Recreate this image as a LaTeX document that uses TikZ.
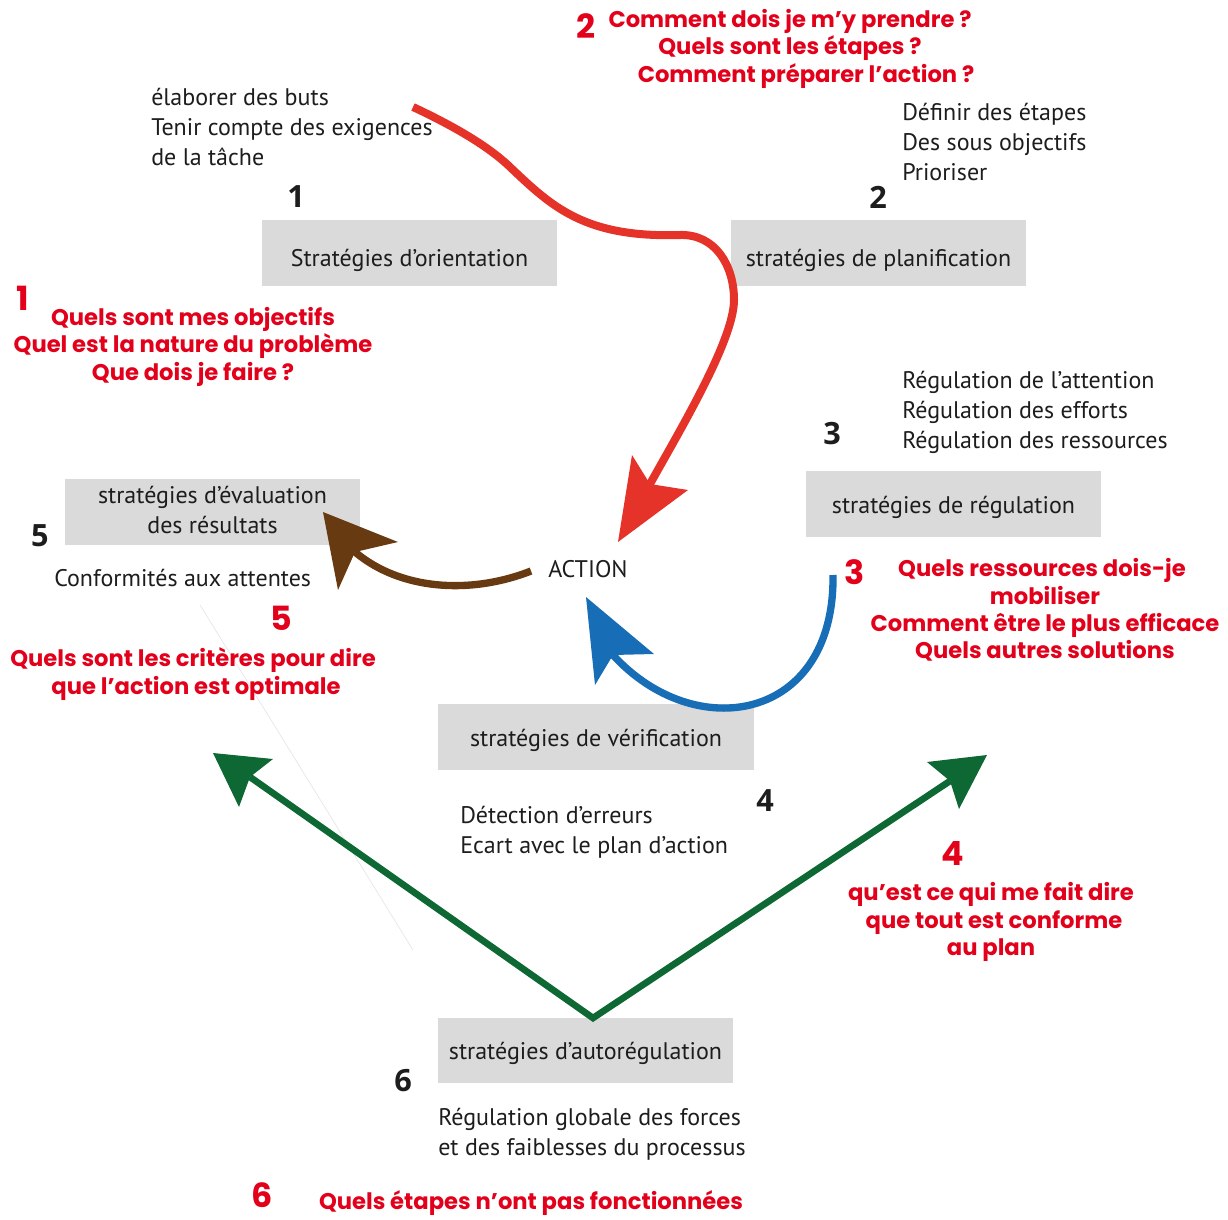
\documentclass[tikz,border=0pt]{standalone}
\usepackage{fontspec}
\setmainfont{PT Sans}
\newfontfamily\redfam{Poppins}
\newfontfamily\numfam{Open Sans}
\newdimen\upx \upx=0.75pt
\definecolor{boxgray}{HTML}{DADADA}
\definecolor{txt}{HTML}{1D1D1B}
\definecolor{redtxt}{RGB}{226,0,26}
\definecolor{redarr}{RGB}{229,51,42}
\definecolor{brownarr}{RGB}{104,58,17}
\definecolor{bluearr}{RGB}{23,110,183}
\definecolor{greenarr}{RGB}{13,104,52}
\newcommand\blackfont{\fontsize{18pt}{22.5pt}\selectfont}
\newcommand\redfont{\redfam\bfseries\fontsize{17pt}{22.5pt}\selectfont}
\tikzset{
  blk/.style={font=\blackfont, text=txt, inner sep=0pt, align=left, yshift=-2.5pt, execute at begin node=\strut},
  rq/.style={font=\redfont, text=redtxt, inner sep=0pt, yshift=-1.5pt, execute at begin node=\strut},
  bnum/.style={font=\numfam\bfseries\fontsize{23pt}{26pt}\selectfont, text=txt, inner sep=0pt},
  rnum/.style={font=\redfam\bfseries\fontsize{25pt}{28pt}\selectfont, text=redtxt, inner sep=0pt},
  sbox/.style={fill=boxgray, font=\blackfont, text=txt, inner sep=0pt, align=center, minimum width=295\upx, minimum height=66\upx, text height=20.25pt, text depth=6.75pt},
  sboxlow/.style={sbox, text height=26.25pt},
  shaft/.style={line width=6pt, line join=round},
}
\begin{document}
\begin{tikzpicture}[x=0.75pt,y=-0.75pt]
\useasboundingbox (0,0) rectangle (1228,1220);
% faint line
\draw[black!10, line width=0.5pt] (200,605) -- (413,950);
% boxes
\node[sboxlow] (b1) at (409.5,253) {Stratégies d’orientation};
\node[sboxlow] (b2) at (878.5,253) {stratégies de planification};
\node[sbox] (b3) at (953.5,504) {stratégies de régulation};
\node[sbox, text height=, text depth=] (b4) at (212.5,512) {\strut stratégies d’évaluation\\\strut des résultats};
\node[sbox, minimum width=316\upx] (b5) at (596,737) {stratégies de vérification};
\node[sbox, minimum height=65\upx] (b6) at (585.5,1050.5) {stratégies d’autorégulation};
% black texts
\node[blk, anchor=west] (t1) at (151,128) {élaborer des buts\\\strut Tenir compte des exigences\\\strut de la tâche};
\node[bnum] (n1) at (296,197) {1};
\node[bnum] (n2) at (878,197) {2};
\node[blk, anchor=west] (t2) at (902,143) {Définir des étapes\\\strut Des sous objectifs\\\strut Prioriser};
\node[blk, anchor=west] (t3) at (902,411) {Régulation de l’attention\\\strut Régulation des efforts\\\strut Régulation des ressources};
\node[bnum] (n3) at (832,434) {3};
\node[bnum] (n5) at (40,536) {5};
\node[blk, anchor=west] (t5) at (54,577) {Conformités aux attentes};
\node[blk, anchor=west] (act) at (548,568) {ACTION};
\node[bnum] (n4) at (765,801) {4};
\node[blk, anchor=west] (t4) at (460,831) {Détection d’erreurs\\\strut Ecart avec le plan d’action};
\node[bnum] (n6) at (403,1081) {6};
\node[blk, anchor=west] (t6) at (438,1133) {Régulation globale des forces\\\strut et des faiblesses du processus};
% red questions
\node[rnum] (r2) at (586,26) {2};
\node[rq] (q2a) at (790,20) {Comment dois je m’y prendre ?};
\node[rq] (q2b) at (790,47) {Quels sont les étapes ?};
\node[rq] (q2c) at (806,75) {Comment préparer l’action ?};
\node[rnum] (r1) at (23,298) {1};
\node[rq] (q1a) at (193,317) {Quels sont mes objectifs};
\node[rq] (q1b) at (193,344) {Quel est la nature du problème};
\node[rq] (q1c) at (193,372) {Que dois je faire ?};
\node[rnum] (r5) at (281,618) {5};
\node[rq] (q5a) at (193,658) {Quels sont les critères pour dire};
\node[rq] (q5b) at (196,686) {que l’action est optimale};
\node[rnum] (r3) at (855,572) {3};
\node[rq] (q3a) at (1042,568) {Quels ressources dois-je};
\node[rq] (q3b) at (1045,596) {mobiliser};
\node[rq] (q3c) at (1045,623) {Comment être le plus efficace};
\node[rq] (q3d) at (1045,650) {Quels autres solutions};
\node[rnum] (r4) at (953,853) {4};
\node[rq] (q4a) at (991,892) {qu’est ce qui me fait dire};
\node[rq] (q4b) at (994,920) {que tout est conforme};
\node[rq] (q4c) at (991,947) {au plan};
\node[rnum] (r6) at (262,1195) {6};
\node[rq] (q6a) at (531,1201) {Quels étapes n’ont pas fonctionnées};
% red arrow
\coordinate (redS) at (413,107);
\coordinate (redN) at (650,484);
\coordinate (redT) at (618,542);
\draw[redarr, shaft] (redS) .. controls (445,122) and (485,143) .. (510,167)
  .. controls (552,207) and (585,238) .. (680,235)
  .. controls (715,234) and (734,265) .. (734,300)
  .. controls (734,340) and (680,430) .. (redN);
\fill[redarr] (redT) -- (632,455) -- (redN) -- (688,490) -- cycle;
% brown arrow
\coordinate (brS) at (531,571);
\coordinate (brN) at (355,552);
\coordinate (brT) at (323,512);
\draw[brownarr, shaft, line width=5.5pt] (brS) .. controls (470,595) and (400,590) .. (brN);
\fill[brownarr] (brT) -- (398,542) -- (brN) -- (338,590) -- cycle;
% blue arrow
\coordinate (blS) at (833,575);
\coordinate (blN) at (613,655);
\coordinate (blT) at (586,597);
\draw[bluearr, shaft, line width=5.5pt] (blS) .. controls (835,722) and (695,745) .. (blN);
\fill[bluearr] (blT) -- (654,654) -- (blN) -- (595,685) -- cycle;
% green arrows
\coordinate (gV) at (593,1018);
\coordinate (gLN) at (250,777);
\coordinate (gLT) at (213,753);
\coordinate (gRN) at (950,781);
\coordinate (gRT) at (987,755);
\draw[greenarr, line width=5pt, line join=miter] (gLN) -- (gV) -- (gRN);
\fill[greenarr] (gLT) -- (273,759) -- (gLN) -- (239,807) -- cycle;
\fill[greenarr] (gRT) -- (927,762) -- (gRN) -- (959,809) -- cycle;
\end{tikzpicture}
\end{document}
